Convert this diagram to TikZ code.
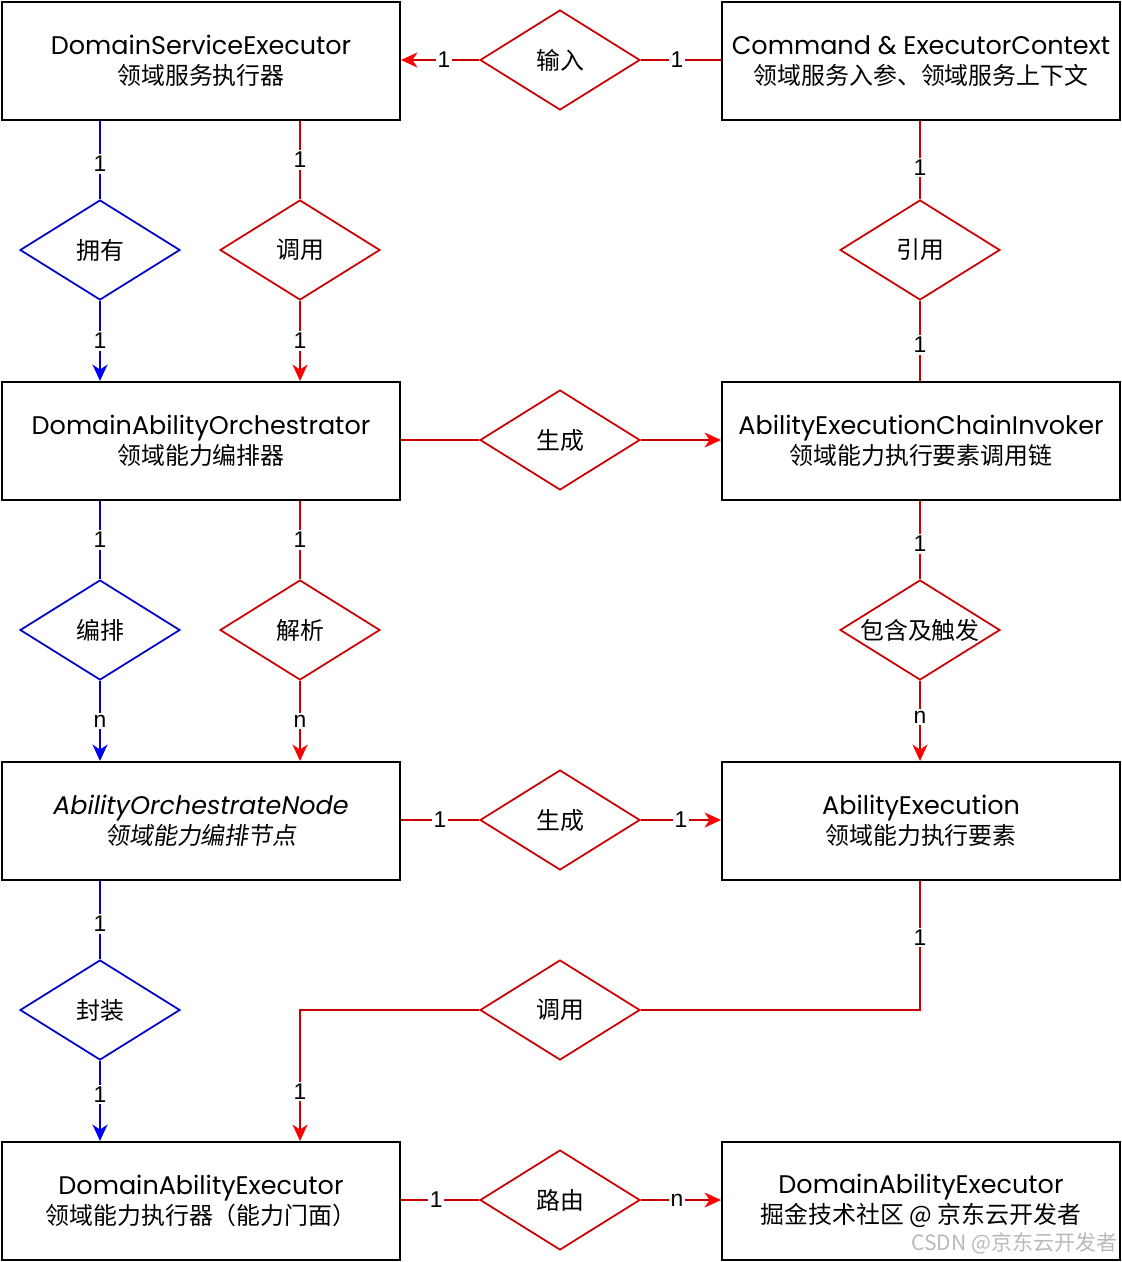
\documentclass[tikz,border=0pt]{standalone}
\usepackage{fontspec}
\setmainfont{Poppins}
\newfontfamily\cjk{Noto Sans CJK SC}
\newfontfamily\cjkit[FakeSlant=0.15]{Noto Sans CJK SC}
\newfontfamily\numfont{Liberation Sans}
\usetikzlibrary{arrows.meta, shapes.geometric}

\definecolor{lred}{RGB}{204,0,0}
\definecolor{tred}{RGB}{255,0,0}
\definecolor{lblue}{RGB}{0,0,204}
\definecolor{tblue}{RGB}{0,0,255}

\begin{document}
\begin{tikzpicture}[x=0.02cm, y=-0.02cm,
    ent/.style={draw, line width=1.1pt, minimum width=7.96cm, minimum height=2.36cm,
      align=center, font=\fontsize{14.5}{17}\selectfont},
    rel/.style={draw=#1, shape=diamond, line width=1pt, inner sep=0pt, aspect=1.6,
      minimum width=3.2cm, minimum height=2cm, font=\cjk\fontsize{13.6}{13.6}\selectfont},
    rline/.style={draw=lred, line width=1.1pt},
    bline/.style={draw=lblue, line width=1.1pt},
    rarr/.style={rline, -{Stealth[length=0.33cm, width=0.3cm, inset=0.1cm, color=tred]}},
    barr/.style={bline, -{Stealth[length=0.33cm, width=0.3cm, inset=0.1cm, color=tblue]}},
    lbl/.style={fill=white, inner sep=1pt, font=\numfont\fontsize{13}{13}\selectfont}]

  \useasboundingbox (0,0) rectangle (1122,1262);

  % entities
  \node[ent] (dse)  at (201,61)   {DomainServiceExecutor\\{\cjk\fontsize{13.6}{17}\selectfont 领域服务执行器}};
  \node[ent] (cec)  at (921,61)   {Command \& ExecutorContext\\{\cjk\fontsize{13.6}{17}\selectfont 领域服务入参、领域服务上下文}};
  \node[ent] (dao)  at (201,441)  {DomainAbilityOrchestrator\\{\cjk\fontsize{13.6}{17}\selectfont 领域能力编排器}};
  \node[ent] (aeci) at (921,441)  {AbilityExecutionChainInvoker\\{\cjk\fontsize{13.6}{17}\selectfont 领域能力执行要素调用链}};
  \node[ent] (aon)  at (201,821)  {\itshape AbilityOrchestrateNode\\{\cjkit\fontsize{13.6}{17}\selectfont 领域能力编排节点}};
  \node[ent] (ae)   at (921,821)  {AbilityExecution\\{\cjk\fontsize{13.6}{17}\selectfont 领域能力执行要素}};
  \node[ent] (dae)  at (201,1201) {DomainAbilityExecutor\\{\cjk\fontsize{13.6}{17}\selectfont 领域能力执行器（能力门面）}};
  \node[ent] (dae2) at (921,1201) {DomainAbilityExecutor\\{\cjk\fontsize{13.6}{17}\selectfont 掘金技术社区 @ 京东云开发者}};

  % relations
  \node[rel=lred]  (dIn)    at (560,60)   {输入};
  \node[rel=lblue] (dOwn)   at (100,250)  {拥有};
  \node[rel=lred]  (dCall)  at (300,250)  {调用};
  \node[rel=lred]  (dRef)   at (920,250)  {引用};
  \node[rel=lred]  (dGen)   at (560,440)  {生成};
  \node[rel=lblue] (dOrc)   at (100,630)  {编排};
  \node[rel=lred]  (dParse) at (300,630)  {解析};
  \node[rel=lred]  (dCont)  at (920,630)  {包含及触发};
  \node[rel=lred]  (dGen2)  at (560,820)  {生成};
  \node[rel=lblue] (dWrap)  at (100,1010) {封装};
  \node[rel=lred]  (dCall2) at (560,1010) {调用};
  \node[rel=lred]  (dRoute) at (560,1200) {路由};

  % row 1
  \draw[rline] (cec.west |- dIn) -- (dIn.east) node[lbl, pos=0.55] {1};
  \draw[rarr] (dIn.west) -- (dse.east |- dIn) node[lbl, pos=0.45] {1};
  \draw[bline] (dOwn.north |- dse.south) -- (dOwn.north) node[lbl, pos=0.55] {1};
  \draw[barr] (dOwn.south) -- (dOwn.south |- dao.north) node[lbl, midway] {1};
  \draw[rline] (dCall.north |- dse.south) -- (dCall.north) node[lbl, pos=0.5] {1};
  \draw[rarr] (dCall.south) -- (dCall.south |- dao.north) node[lbl, midway] {1};
  \draw[rline] (dRef.north |- cec.south) -- (dRef.north) node[lbl, pos=0.6] {1};
  \draw[rline] (dRef.south) -- (dRef.south |- aeci.north) node[lbl, pos=0.55] {1};

  % row 2
  \draw[rline] (dao.east |- dGen) -- (dGen.west);
  \draw[rarr] (dGen.east) -- (aeci.west |- dGen);
  \draw[bline] (dOrc.north |- dao.south) -- (dOrc.north) node[lbl, pos=0.5] {1};
  \draw[barr] (dOrc.south) -- (dOrc.south |- aon.north) node[lbl, pos=0.5] {n};
  \draw[rline] (dParse.north |- dao.south) -- (dParse.north) node[lbl, pos=0.5] {1};
  \draw[rarr] (dParse.south) -- (dParse.south |- aon.north) node[lbl, pos=0.5] {n};
  \draw[rline] (dCont.north |- aeci.south) -- (dCont.north) node[lbl, pos=0.55] {1};
  \draw[rarr] (dCont.south) -- (dCont.south |- ae.north) node[lbl, pos=0.45] {n};

  % row 3
  \draw[rline] (aon.east |- dGen2) -- (dGen2.west) node[lbl, pos=0.5] {1};
  \draw[rarr] (dGen2.east) -- (ae.west |- dGen2) node[lbl, pos=0.5] {1};
  \draw[bline] (dWrap.north |- aon.south) -- (dWrap.north) node[lbl, pos=0.55] {1};
  \draw[barr] (dWrap.south) -- (dWrap.south |- dae.north) node[lbl, pos=0.42] {1};
  \draw[rline] (ae.south -| dRef) |- (dCall2.east) node[lbl, pos=0.22] {1};
  \draw[rarr] (dCall2.west) -| (dCall.south |- dae.north) node[lbl, pos=0.81] {1};

  % row 4
  \draw[rline] (dae.east |- dRoute) -- (dRoute.west) node[lbl, pos=0.45] {1};
  \draw[rarr] (dRoute.east) -- (dae2.west |- dRoute) node[lbl, pos=0.45] {n};

  \node[text=gray!55, anchor=east, inner sep=0pt, font=\cjk\fontsize{12}{12}\selectfont]
    (mark) at (1118,1243) {CSDN @京东云开发者};
\end{tikzpicture}
\end{document}
